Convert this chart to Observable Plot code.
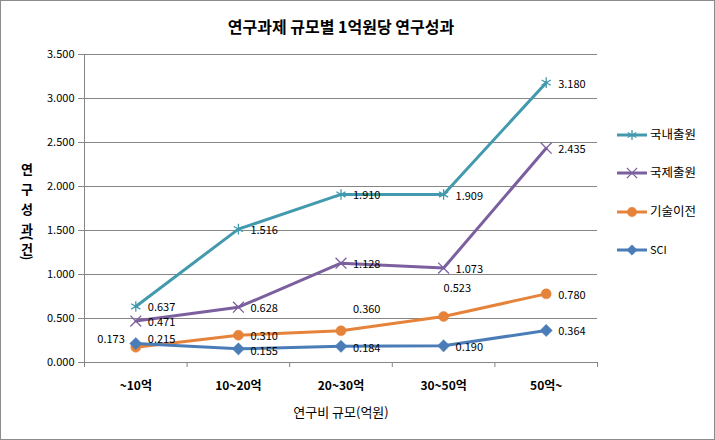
<!DOCTYPE html>
<html><head><meta charset="utf-8">
<script src="https://cdn.jsdelivr.net/npm/d3@7"></script>
<script src="https://cdn.jsdelivr.net/npm/@observablehq/plot@0.6"></script>
<style>
html,body{margin:0;padding:0;background:#fff;}
#chart{position:relative;width:715px;height:440px;}
</style>
</head><body><div id="chart"></div>
<script>
const categories = ["~10억", "10~20억", "20~30억", "30~50억", "50억~"];
const seriesNames = ["국내출원", "국제출원", "기술이전", "SCI"];
const domestic = [0.637, 1.516, 1.910, 1.909, 3.180];
const international = [0.471, 0.628, 1.128, 1.073, 2.435];
const transfer = [0.173, 0.310, 0.360, 0.523, 0.780];
const sci = [0.215, 0.155, 0.184, 0.190, 0.364];
const yTicks = [0, 0.5, 1, 1.5, 2, 2.5, 3, 3.5];
const titleText = "연구과제 규모별 1억원당 연구성과";
const xTitle = "연구비 규모(억원)";
const yTitle = "연구성과(건)";

const valuesBySeries = [domestic, international, transfer, sci];
const colors = ["#4399AE", "#7B5F9E", "#E5833B", "#4A7DB8"];
const symbols = ["asterisk", "times", "circle", "diamond2"];
const rows = [];
seriesNames.forEach((s, k) => valuesBySeries[k].forEach((v, i) => rows.push({series: s, i, value: v, k})));

// label placement tweaks (pixels)
const labelOffset = {
  "기술이전|0": [-11, -8, "end"],
  "기술이전|2": [12, -21, "start"],
  "기술이전|3": [0, -28, "start"],
  "SCI|0": [12, -4, "start"],
  "SCI|1": [12, 3, "start"],
  "SCI|2": [12, 2, "start"],
  "SCI|3": [12, 2, "start"]
};
const off = d => labelOffset[d.series + "|" + d.i] || [12, 1.5, "start"];

const font = "'Noto Sans CJK KR', 'Noto Sans', sans-serif";
const bandEdges = d3.range(categories.length + 1).map(i => i - 0.5);

const marks = [
  Plot.gridY(yTicks.filter(t => t > 0), {stroke: "#868686", strokeOpacity: 1}),
  Plot.ruleY([0], {stroke: "#868686"}),
  Plot.ruleX([-0.5], {stroke: "#868686"}),
  Plot.axisY({ticks: yTicks, tickSize: 6, tickPadding: 4, tickFormat: d3.format(".3f"), stroke: "#868686", fontSize: 11, label: null}),
  Plot.axisX({ticks: bandEdges, tickSize: 5, tickFormat: () => "", stroke: "#868686", label: null}),
  Plot.axisX({ticks: d3.range(categories.length), tickSize: 0, tickPadding: 19, tickFormat: i => categories[i], fontSize: 12, fontWeight: "bold", label: null}),
];
seriesNames.forEach((s, k) => {
  const data = rows.filter(r => r.k === k);
  marks.push(Plot.line(data, {x: "i", y: "value", stroke: colors[k], strokeWidth: 3}));
});
seriesNames.forEach((s, k) => {
  const data = rows.filter(r => r.k === k);
  const filled = symbols[k] === "circle" || symbols[k] === "diamond2";
  marks.push(Plot.dot(data, {
    x: "i", y: "value", symbol: () => symbols[k],
    r: symbols[k] === "circle" ? 5 : symbols[k] === "diamond2" ? 5.5 : 5,
    fill: filled ? colors[k] : "none",
    stroke: colors[k], strokeWidth: filled ? 0.5 : 1.3
  }));
});
rows.forEach(d => {
  const [dx, dy, anchor] = off(d);
  marks.push(Plot.text([d], {x: "i", y: "value", text: r => d3.format(".3f")(r.value), dx, dy, textAnchor: anchor, fontSize: 11, fill: "#000"}));
});
marks.push(
  Plot.text([titleText], {frameAnchor: "top", lineAnchor: "middle", dy: -27, fontSize: 16, fontWeight: "bold", fill: "#000"}),
  Plot.text([xTitle], {frameAnchor: "bottom", lineAnchor: "middle", dy: 50, fontSize: 13, fill: "#000"})
);

const chart = Plot.plot({
  width: 715, height: 440,
  marginLeft: 84, marginRight: 118, marginTop: 54, marginBottom: 78,
  x: {type: "linear", domain: [-0.5, categories.length - 0.5]},
  y: {domain: [0, 3.5]},
  symbol: {type: "identity"},
  style: {fontFamily: font, fontSize: "11px", color: "#000", background: "#fff"},
  marks
});

const svg = d3.select(chart);
// outer border
svg.insert("rect", ":first-child").attr("x", 0.5).attr("y", 0.5).attr("width", 714).attr("height", 439)
  .attr("fill", "#fff").attr("stroke", "#8c8c8c");
// y title: stacked characters, parentheses turned
const yt = svg.append("g").attr("font-family", font).attr("font-size", 13).attr("font-weight", "bold")
  .attr("text-anchor", "middle").attr("fill", "#000");
let cy = 168;
Array.from(yTitle).forEach((ch, j, arr) => {
  const isParen = ch === "(" || ch === ")";
  if (j > 0) {
    const prevParen = arr[j - 1] === "(" || arr[j - 1] === ")";
    cy += (isParen || prevParen) ? 10 : 20;
  }
  const t = yt.append("text").text(ch).attr("dominant-baseline", "central");
  if (isParen) t.attr("transform", `translate(27,${cy}) rotate(90)`);
  else t.attr("x", 27).attr("y", cy);
});
// legend
const legendY = [135, 173, 212, 250];
const lg = svg.append("g").attr("font-family", font).attr("font-size", 12).attr("text-anchor", "start");
const symMap = {asterisk: d3.symbolAsterisk, times: d3.symbolTimes, circle: d3.symbolCircle, diamond2: d3.symbolDiamond2};
seriesNames.forEach((s, k) => {
  const y = legendY[k];
  lg.append("line").attr("x1", 617).attr("x2", 647).attr("y1", y).attr("y2", y)
    .attr("stroke", colors[k]).attr("stroke-width", 3);
  const filled = symbols[k] === "circle" || symbols[k] === "diamond2";
  lg.append("path").attr("d", d3.symbol(symMap[symbols[k]], 70)())
    .attr("transform", `translate(632,${y})`)
    .attr("fill", filled ? colors[k] : "none").attr("stroke", colors[k]).attr("stroke-width", filled ? 0.5 : 1.3);
  lg.append("text").text(s).attr("x", 650).attr("y", y).attr("dy", "0.35em").attr("fill", "#000")
    .attr("text-anchor", "start")
    .attr("font-size", s === "SCI" ? 11 : 12.5);
});
document.getElementById("chart").appendChild(chart);
</script>
</body></html>
